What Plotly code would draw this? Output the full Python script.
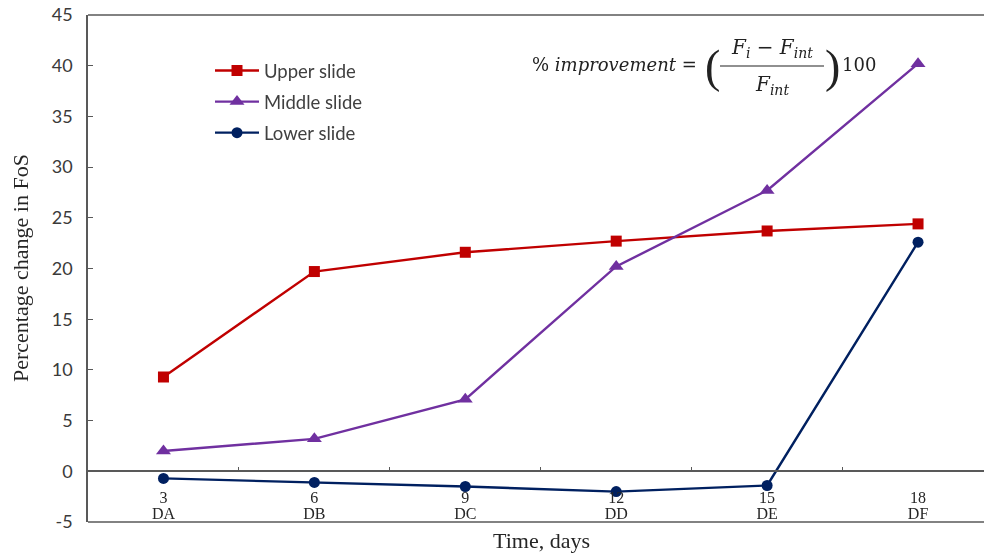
import plotly.graph_objects as go

days = ["3", "6", "9", "12", "15", "18"]
codes = ["DA", "DB", "DC", "DD", "DE", "DF"]
upper = [9.3, 19.7, 21.6, 22.7, 23.7, 24.4]
middle = [2.0, 3.2, 7.1, 20.2, 27.7, 40.2]
lower = [-0.7, -1.1, -1.5, -2.0, -1.4, 22.6]
y_ticks = [-5, 0, 5, 10, 15, 20, 25, 30, 35, 40, 45]
y_ticklabels = ["-5", "0", "5", "10", "15", "20", "25", "30", "35", "40", "45"]

xi = list(range(len(days)))

W, H = 984, 553
L, R, T, B = 88, 0, 15, 31
pw, ph = W - L - R, H - T - B
def px(x): return (x - L) / pw
def py(y): return (H - B - y) / ph

fig = go.Figure()
fig.add_trace(go.Scatter(x=xi, y=upper, name="Upper slide", mode="lines+markers",
                         legendgroup="u",
                         line=dict(color="#C00000", width=2.4),
                         marker=dict(symbol="square", size=11, color="#C00000")))
fig.add_trace(go.Scatter(x=xi, y=middle, name="Middle slide", mode="lines+markers",
                         legendgroup="m",
                         line=dict(color="#7030A0", width=2.4),
                         marker=dict(symbol="triangle-up", size=13, color="#7030A0")))
fig.add_trace(go.Scatter(x=xi, y=lower, name="Lower slide", mode="lines+markers",
                         legendgroup="l",
                         line=dict(color="#002060", width=2.4),
                         marker=dict(symbol="circle", size=11, color="#002060")))
# invisible carrier trace for the secondary (code) axis
fig.add_trace(go.Scatter(x=xi, y=lower, xaxis="x2", mode="markers", opacity=0,
                         showlegend=False, hoverinfo="skip"))

axcol = "#595959"
rng = [-0.5, (W - 163) / 151.0]
fig.update_layout(
    width=W, height=H, margin=dict(l=L, r=R, t=T, b=B, autoexpand=False),
    paper_bgcolor="white", plot_bgcolor="white",
    showlegend=True,
    legend=dict(x=px(210), y=py(52), xanchor="left", yanchor="top",
                font=dict(family="Lato", size=18.5, color="#404040"),
                bgcolor="rgba(0,0,0,0)", tracegroupgap=4, itemwidth=44),
    xaxis=dict(range=rng, anchor="free", position=0.1,
               automargin=False,
               tickvals=xi, ticktext=days, ticks="", showgrid=False,
               showline=True, linecolor=axcol, linewidth=1.5, zeroline=False,
               ticklabelstandoff=12,
               tickfont=dict(family="Liberation Serif", size=16, color="#262626"),
               minor=dict(tickvals=[i + 0.5 for i in xi[:-1]], ticks="inside",
                          ticklen=4, tickcolor=axcol, tickwidth=1)),
    xaxis2=dict(range=rng, overlaying="x", anchor="free", position=py(502),
                automargin=False, side="bottom",
                tickvals=xi, ticktext=codes, ticks="", showgrid=False,
                showline=False, zeroline=False, ticklabelstandoff=0,
                tickfont=dict(family="Liberation Serif", size=16, color="#262626")),
    yaxis=dict(range=[-5, 45], tickvals=y_ticks, ticktext=y_ticklabels,
               ticks="inside", ticklen=5, tickcolor=axcol,
               automargin=False, ticklabelstandoff=10,
               showline=True, linecolor=axcol, linewidth=1.5, showgrid=False,
               zeroline=False, tickfont=dict(family="Lato", size=18, color="#3a3a3a")),
)

# frame lines (top and bottom)
for yy in (0, 1):
    fig.add_shape(type="line", xref="paper", yref="paper", x0=0, x1=1, y0=yy, y1=yy,
                  line=dict(color=axcol, width=1.5))

def ann(text, x, y, size, family, xanchor="center", **kw):
    fig.add_annotation(text=text, xref="paper", yref="paper", x=px(x), y=py(y),
                       xanchor=xanchor, yanchor="middle", showarrow=False,
                       font=dict(family=family, size=size, color=kw.pop("color", "#222")), **kw)

ann("Time, days", 541, 540, 22, "Liberation Serif", color="#262626")
ann("Percentage change in FoS", 20, 268, 22, "Liberation Serif", color="#262626", textangle=-90)

# formula
ff = "DejaVu Serif"
fs = 18
ann("% <i>improvement</i> =", 530, 64, fs, ff, xanchor="left")
ann("<i>F<sub>i</sub></i> − <i>F<sub>int</sub></i>", 772, 48, 20, ff)
ann("<i>F<sub>int</sub></i>", 772, 85, 20, ff)
fig.add_shape(type="line", xref="paper", yref="paper", x0=px(720), x1=px(824),
              y0=py(66), y1=py(66), line=dict(color="#222", width=1.2))
ann("(", 712, 67, 46, "Liberation Serif")
ann(")", 832, 67, 46, "Liberation Serif")
ann("100", 840, 64, fs, ff, xanchor="left")

fig.write_html("out.html", config={"displayModeBar": False},
               post_script="document.body.style.margin='0';document.body.style.overflow='hidden';")
